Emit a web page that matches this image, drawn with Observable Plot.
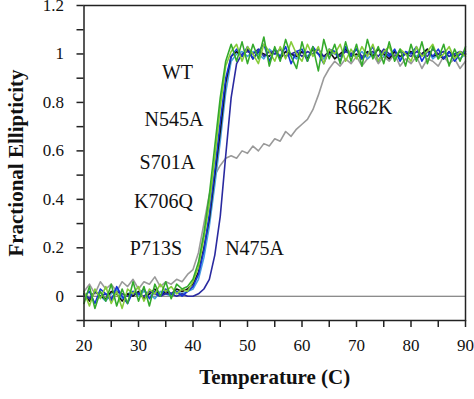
<!DOCTYPE html>
<html>
<head>
<meta charset="utf-8">
<script src="https://cdn.jsdelivr.net/npm/d3@7"></script>
<script src="https://cdn.jsdelivr.net/npm/@observablehq/plot@0.6"></script>
<style>
  html, body { margin: 0; padding: 0; background: #fff; }
  #chart { width: 474px; height: 399px; }
</style>
</head>
<body>
<div id="chart"></div>
<script>
// Temperature grid (°C)
const temps = [
  20,21,22,23,24,25,26,27,28,29,
  30,31,32,33,34,35,36,37,38,39,
  40,41,42,43,44,45,46,47,48,49,
  50,51,52,53,54,55,56,57,58,59,
  60,61,62,63,64,65,66,67,68,69,
  70,71,72,73,74,75,76,77,78,79,
  80,81,82,83,84,85,86,87,88,89,90
];

const seriesNames = ["R662K", "S701A", "WT", "N475A", "K706Q", "P713S", "N545A"];
const seriesColors = ["#9a9a9a", "#4a9fe0", "#111111", "#2a2aa0", "#1533d6", "#86cc3a", "#34aa2c"];

const R662K = [
  0.02,0.05,0.01,0.06,0.03,0.05,0.02,0.06,0.04,0.07,
  0.03,0.06,0.05,0.08,0.04,0.06,0.05,0.07,0.06,0.09,
  0.11,0.18,0.30,0.42,0.50,0.54,0.57,0.58,0.57,0.60,
  0.59,0.62,0.60,0.63,0.62,0.65,0.64,0.68,0.66,0.69,
  0.71,0.73,0.77,0.83,0.90,0.94,0.97,0.95,0.98,0.96,
  0.99,0.95,0.98,1.00,0.96,0.99,0.97,1.00,0.95,0.98,
  0.96,0.99,0.94,0.98,0.97,0.95,0.99,0.96,0.98,0.94,0.97
];
const S701A = [
  0.01,-0.01,0.02,0.00,-0.02,0.01,0.03,-0.01,0.01,0.02,
  0.00,0.02,0.01,-0.01,0.02,0.01,0.00,0.02,0.01,0.02,
  0.03,0.07,0.16,0.29,0.46,0.64,0.84,0.97,1.00,1.01,
  0.99,1.01,1.00,0.98,1.02,1.00,0.99,1.01,1.00,0.98,
  1.01,0.99,1.02,1.00,0.98,1.01,1.00,0.99,1.02,1.00,
  0.99,1.01,0.98,1.00,1.02,0.99,1.00,1.01,0.98,1.00,
  1.01,0.99,1.00,1.02,0.98,1.00,1.01,0.99,1.00,0.98,1.00
];
const WT = [
  0.01,-0.02,0.02,0.00,-0.01,0.02,0.01,-0.02,0.01,0.00,
  0.02,-0.01,0.01,0.03,0.00,0.02,0.01,0.03,0.02,0.03,
  0.05,0.10,0.20,0.32,0.50,0.68,0.88,0.99,1.01,0.99,
  1.02,0.98,1.01,1.00,0.99,1.02,0.98,1.01,1.00,0.99,
  1.01,0.98,1.02,1.00,0.99,1.01,0.98,1.00,1.02,0.99,
  1.00,0.98,1.01,0.99,1.02,1.00,0.98,1.01,0.99,1.00,
  1.01,0.98,1.00,1.02,0.99,1.00,0.98,1.01,0.99,1.00,1.00
];
const N475A = [
  0.01,-0.01,0.02,0.00,0.01,-0.01,0.02,0.01,0.00,0.01,
  0.01,0.00,0.02,0.01,0.00,0.01,0.01,0.00,0.01,0.00,
  0.00,0.01,0.03,0.07,0.17,0.33,0.58,0.82,0.96,1.00,
  1.01,1.00,1.02,0.99,1.01,1.00,1.02,0.99,1.00,1.01,
  0.99,1.01,1.00,1.02,0.99,1.00,1.01,0.99,1.01,1.00,
  1.02,0.99,1.00,1.01,0.99,1.02,1.00,0.99,1.01,1.00,
  0.99,1.01,1.00,0.99,1.02,1.00,1.01,0.99,1.00,1.01,1.00
];
const K706Q = [
  0.00,0.02,-0.03,0.03,0.01,-0.02,0.04,0.00,-0.03,0.02,
  0.01,0.03,-0.01,0.02,0.00,0.03,0.01,0.02,0.00,0.02,
  0.04,0.09,0.19,0.34,0.52,0.72,0.90,0.99,1.02,0.99,
  1.03,0.98,1.01,1.04,0.97,1.02,0.99,1.03,0.96,1.01,
  1.02,0.97,1.03,1.00,0.96,1.02,1.01,0.97,1.03,0.99,
  1.02,0.98,1.00,1.03,0.97,1.01,0.99,1.02,0.97,1.01,
  1.00,1.03,0.97,1.01,0.99,1.02,0.98,1.01,0.97,1.00,1.01
];
const P713S = [
  0.02,-0.04,0.03,-0.01,0.04,-0.03,0.02,-0.05,0.03,0.01,
  0.04,-0.02,0.03,0.01,0.05,0.02,0.04,0.01,0.03,0.02,
  0.06,0.12,0.24,0.38,0.57,0.78,0.95,1.01,1.04,0.97,
  1.03,1.00,0.96,1.04,1.01,0.97,1.03,0.98,1.05,1.00,
  0.97,1.04,0.99,1.03,0.96,1.02,1.00,1.04,0.97,1.02,
  0.98,1.03,0.99,1.04,0.97,1.01,1.03,0.98,1.02,1.00,
  0.97,1.03,0.99,1.01,1.04,0.98,1.00,1.03,0.98,1.01,0.99
];
const N545A = [
  -0.03,0.04,-0.05,0.02,-0.02,0.05,-0.04,0.03,-0.03,0.06,
  -0.02,0.04,-0.04,0.05,0.00,0.06,-0.01,0.05,0.03,0.04,
  0.07,0.14,0.26,0.42,0.62,0.82,0.97,1.04,0.97,1.05,
  0.96,1.04,0.98,1.07,0.95,1.03,0.97,1.06,0.99,0.94,
  1.05,0.97,1.03,0.93,1.06,0.98,1.04,0.96,1.05,0.97,
  1.04,0.95,1.06,0.98,1.03,0.96,1.05,0.97,1.02,0.95,
  1.04,0.97,1.05,0.96,1.03,0.98,1.04,0.95,1.02,0.97,1.03
];

// Curve labels (annotation positions in data units)
const labelNames  = ["WT", "N545A", "S701A", "K706Q", "P713S", "N475A", "R662K"];
const labelT      = [40.0, 41.9, 40.4, 40.0, 38.0, 45.9, 66.0];
const labelV      = [0.925, 0.73, 0.55, 0.39, 0.195, 0.195, 0.78];
const labelAnchor = ["end", "end", "end", "end", "end", "start", "start"];

// Axis ticks and labels
const xTicks = [20,25,30,35,40,45,50,55,60,65,70,75,80,85,90];
const xLabelValues = [20,30,40,50,60,70,80,90];
const xTickLabels = ["20","30","40","50","60","70","80","90"];
const yTicks = [-0.1,0,0.1,0.2,0.3,0.4,0.5,0.6,0.7,0.8,0.9,1.0,1.1,1.2];
const yLabelValues = [0,0.2,0.4,0.6,0.8,1.0,1.2];
const yTickLabels = ["0","0.2","0.4","0.6","0.8","1","1.2"];

const xTitle = "Temperature (C)";
const yTitle = "Fractional Ellipticity";

const seriesValues = {R662K, S701A, WT, N475A, K706Q, P713S, N545A};
const data = [];
for (const name of seriesNames) {
  seriesValues[name].forEach((v, i) => data.push({series: name, T: temps[i], v}));
}
const labels = labelNames.map((name, i) => ({name, T: labelT[i], v: labelV[i], anchor: labelAnchor[i]}));
const xLab = xLabelValues.map((v, i) => ({v, t: xTickLabels[i]}));
const yLab = yLabelValues.map((v, i) => ({v, t: yTickLabels[i]}));

const font = "'Liberation Serif', 'Times New Roman', serif";

const chart = Plot.plot({
  width: 474,
  height: 399,
  marginLeft: 83.5,
  marginRight: 9,
  marginTop: 5,
  marginBottom: 79,
  style: {fontFamily: font, fontSize: "17px", color: "#111", background: "#fff", overflow: "visible"},
  x: {domain: [20, 90]},
  y: {domain: [-0.1, 1.2]},
  color: {domain: seriesNames, range: seriesColors},
  marks: [
    Plot.ruleY([0], {stroke: "#666", strokeWidth: 1.2}),
    Plot.line(data, {x: "T", y: "v", z: "series", stroke: "series", strokeWidth: 1.6, strokeLinejoin: "round"}),
    Plot.frame({stroke: "#222", strokeWidth: 1.5}),
    Plot.axisX({ticks: xTicks, tickSize: 7, tickFormat: () => "", label: null, stroke: "#222", strokeWidth: 1.5}),
    Plot.axisY({ticks: yTicks, tickSize: 7, tickFormat: () => "", label: null, stroke: "#222", strokeWidth: 1.5}),
    Plot.text(xLab, {x: "v", frameAnchor: "bottom", dy: 30, text: "t", textAnchor: "middle", fontSize: 17, fontFamily: font, fill: "#111"}),
    Plot.text(yLab, {y: "v", frameAnchor: "left", dx: -20, text: "t", textAnchor: "end", fontSize: 17, fontFamily: font, fill: "#111"}),
    Plot.text(labels.filter(d => d.anchor === "end"), {x: "T", y: "v", text: "name", textAnchor: "end", fontSize: 20, fontFamily: font, fill: "#111"}),
    Plot.text(labels.filter(d => d.anchor === "start"), {x: "T", y: "v", text: "name", textAnchor: "start", fontSize: 20, fontFamily: font, fill: "#111"}),
    Plot.text([xTitle], {frameAnchor: "bottom", dy: 63, textAnchor: "middle", fontSize: 21, fontWeight: "bold", fontFamily: font, fill: "#111"}),
    Plot.text([yTitle], {frameAnchor: "left", dx: -68, rotate: -90, textAnchor: "middle", fontSize: 21, fontWeight: "bold", fontFamily: font, fill: "#111"})
  ]
});
document.getElementById("chart").appendChild(chart);
</script>
</body>
</html>
